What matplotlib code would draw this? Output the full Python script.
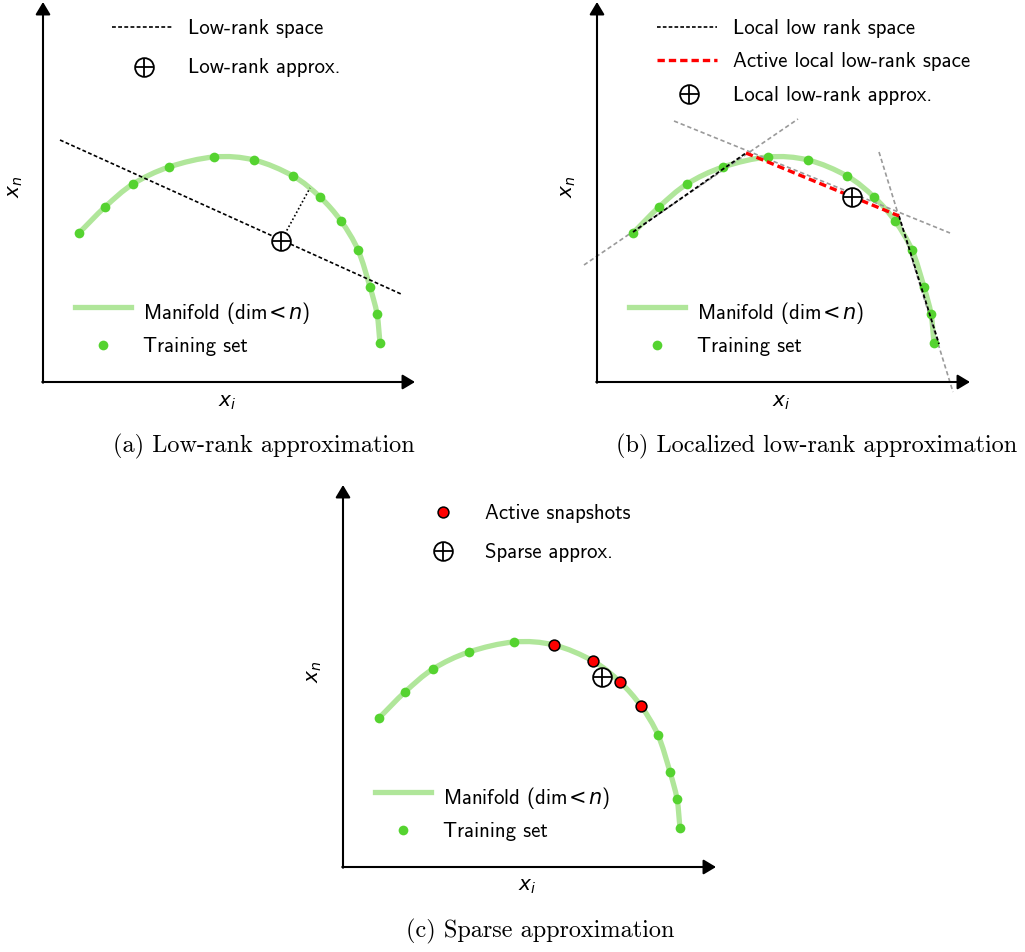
import matplotlib as mpl
mpl.use('Agg')
import matplotlib.pyplot as plt
import numpy as np
from matplotlib.path import Path
from matplotlib.patches import PathPatch

plt.rcParams['mathtext.fontset'] = 'dejavusans'

# training snapshots on the manifold (same layout in all three panels)
train_x = [36, 62, 90, 126, 171, 211, 250, 277, 298, 315, 327, 334, 337]
train_y = [149, 175, 198, 215, 225, 222, 206, 185, 161, 132, 95, 68, 39]

# (a) global low-rank space and its approximation
lowrank_x = [17, 358]
lowrank_y = [242, 88]
approx_a = [238, 141]
proj_x = [238, 267]
proj_y = [141, 194]

# (b) local low-rank spaces
local1_x = [36, 149]
local1_y = [150, 229]
active_x = [149, 302]
active_y = [229, 166]
local3_x = [302, 342]
local3_y = [166, 38]
ext1_x = [-13, 201]
ext1_y = [117, 263]
ext2_x = [77, 353]
ext2_y = [261, 149]
ext3_x = [282, 356]
ext3_y = [230, -10]
approx_b = [255, 185]

# (c) sparse approximation
active_idx = [5, 6, 7, 8]
approx_c = [259, 190]

captions = ['(a) Low-rank approximation',
            '(b) Localized low-rank approximation',
            '(c) Sparse approximation']

GREEN = '#55d330'
MANI = '#b0e69a'
GRAY = '#9a9a9a'
RED = '#ff0000'
SANS = 'cmss10'
SERIF = 'cmr10'
FS = 15
MFS = 14.5
MANI_LABEL = r'Manifold (dim$\hspace{-0.1}<\hspace{-0.1}n$)'


def smooth_path(x, y):
    p = np.column_stack([x, y]).astype(float)
    e = np.vstack([2 * p[0] - p[1], p, 2 * p[-1] - p[-2]])
    verts = [p[0]]
    codes = [Path.MOVETO]
    for i in range(1, len(e) - 2):
        p0, p1, p2, p3 = e[i - 1], e[i], e[i + 1], e[i + 2]
        verts += [p1 + (p2 - p0) / 6, p2 - (p3 - p1) / 6, p2]
        codes += [Path.CURVE4] * 3
    return Path(verts, codes)


def approx_marker(ax, x, y):
    ax.plot([x], [y], 'o', ms=13.5, mfc='white', mec='k', mew=1.3, zorder=6)
    ax.plot([x], [y], '+', ms=13.5, mec='k', mew=1.3, zorder=7)


def base(ax, origin, xlen, ylen, caption, cap_x):
    ox, oy = origin
    ax.set_position([(ox - 45) / 1025, (952 - (oy + 80)) / 952, 445 / 1025, 465 / 952])
    ax.set_xlim(-45, 400)
    ax.set_ylim(-80, 385)
    ax.axis('off')
    arrow = dict(arrowstyle='-|>,head_length=0.5,head_width=0.3', lw=1.5,
                 color='k', mutation_scale=15, shrinkA=0, shrinkB=0)
    ax.annotate('', xy=(xlen, 0), xytext=(-0.75, 0), arrowprops=arrow)
    ax.annotate('', xy=(0, ylen), xytext=(0, -0.75), arrowprops=arrow)
    ax.text(184, -20, r'$x_i$', fontsize=MFS, ha='center', va='center')
    ax.text(-28, 195, r'$x_n$', fontsize=MFS, ha='center', va='center', rotation=90)
    ax.text(cap_x, -64, caption, family=SERIF, fontsize=17.5, ha='center', va='center')
    # manifold and training set
    ax.add_patch(PathPatch(smooth_path(train_x, train_y), fc='none', ec=MANI,
                           lw=3.8, zorder=1))
    ax.plot(train_x, train_y, 'o', ms=7, color=GREEN, mew=0, zorder=3)
    # lower legend
    ax.plot([32, 88], [75, 75], color=MANI, lw=3.8)
    ax.text(100, 63, MANI_LABEL, family=SANS, fontsize=FS, va='baseline')
    ax.plot([60], [37], 'o', ms=7, color=GREEN, mew=0)
    ax.text(100, 30, 'Training set', family=SANS, fontsize=FS, va='baseline')


fig = plt.figure(figsize=(10.25, 9.52), dpi=100)
ax_a = fig.add_axes([0, 0, 1, 1])
ax_b = fig.add_axes([0, 0, 1, 1])
ax_c = fig.add_axes([0, 0, 1, 1])

# (a)
base(ax_a, (43, 382), 372, 380, captions[0], 221)
ax_a.plot(lowrank_x, lowrank_y, color='k', lw=1.2, dashes=(2.3, 1.4), zorder=4)
ax_a.plot(proj_x, proj_y, color='k', lw=1.2, dashes=(1, 1.4), zorder=4)
approx_marker(ax_a, *approx_a)
ax_a.plot([69, 129], [355, 355], color='k', lw=1.2, dashes=(2.3, 1.4))
ax_a.text(145, 348, 'Low-rank space', family=SANS, fontsize=FS, va='baseline')
approx_marker(ax_a, 101, 315)
ax_a.text(145, 309, 'Low-rank approx.', family=SANS, fontsize=FS, va='baseline')

# (b)
base(ax_b, (597, 382), 373, 380, captions[1], 220)
for ex, ey in [(ext1_x, ext1_y), (ext2_x, ext2_y), (ext3_x, ext3_y)]:
    ax_b.plot(ex, ey, color=GRAY, lw=1.2, dashes=(2.6, 1.7), zorder=2)
ax_b.plot(local1_x, local1_y, color='k', lw=1.3, dashes=(2.2, 1.3), zorder=4)
ax_b.plot(local3_x, local3_y, color='k', lw=1.3, dashes=(2.2, 1.3), zorder=4)
ax_b.plot(active_x, active_y, color=RED, lw=2.4, dashes=(2.2, 1.2), zorder=5)
approx_marker(ax_b, *approx_b)
ax_b.plot([60, 120], [355, 355], color='k', lw=1.2, dashes=(2.2, 1.3))
ax_b.text(136, 348.5, 'Local low rank space', family=SANS, fontsize=FS, va='baseline')
ax_b.plot([60, 120], [322, 322], color=RED, lw=2.4, dashes=(2.2, 1.2))
ax_b.text(136, 315, 'Active local low-rank space', family=SANS, fontsize=FS, va='baseline')
approx_marker(ax_b, 92, 288)
ax_b.text(136, 281, 'Local low-rank approx.', family=SANS, fontsize=FS, va='baseline')

# (c)
base(ax_c, (343, 867), 373, 382, captions[2], 197)
ax_c.plot([train_x[i] for i in active_idx], [train_y[i] for i in active_idx], 'o',
          ms=7.8, mfc=RED, mec='k', mew=1.1, zorder=5)
approx_marker(ax_c, *approx_c)
ax_c.plot([100], [355], 'o', ms=7.8, mfc=RED, mec='k', mew=1.1)
ax_c.text(142, 348, 'Active snapshots', family=SANS, fontsize=FS, va='baseline')
approx_marker(ax_c, 100, 316)
ax_c.text(142, 309, 'Sparse approx.', family=SANS, fontsize=FS, va='baseline')

fig.savefig('out.png', dpi=100)
